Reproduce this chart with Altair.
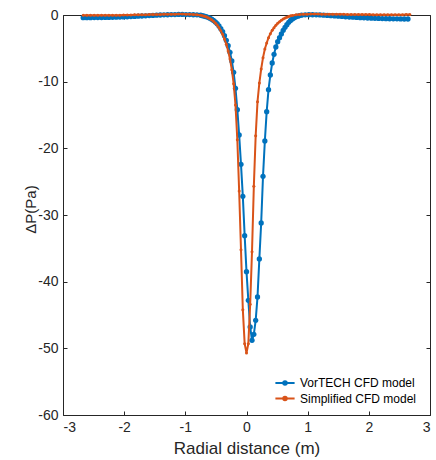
import altair as alt
import pandas as pd

BLUE = "#0072BD"
ORANGE = "#D95319"
INK = "#262626"
FONT = "Liberation Sans"

series_names = ["VorTECH CFD model", "Simplified CFD model"]
x_ticks = [-3, -2, -1, 0, 1, 2, 3]
y_ticks = [-60, -50, -40, -30, -20, -10, 0]

# VorTECH CFD model (blue)
vortech_x = [
    -2.67, -2.61, -2.55, -2.49, -2.43, -2.37, -2.31, -2.25, -2.19, -2.13, -2.07, -2.01,
    -1.95, -1.89, -1.83, -1.77, -1.71, -1.65, -1.59, -1.53, -1.47, -1.41, -1.35, -1.29,
    -1.23, -1.17, -1.11, -1.05, -0.99, -0.93, -0.87, -0.81,
    -0.75, -0.72, -0.69, -0.66, -0.63, -0.60, -0.57, -0.54, -0.51, -0.48,
    -0.45, -0.42, -0.39, -0.36, -0.33, -0.30, -0.27, -0.24, -0.21, -0.18,
    -0.15, -0.12, -0.09, -0.06, -0.03, 0.00, 0.03, 0.06, 0.09, 0.12,
    0.15, 0.18, 0.21, 0.24, 0.27, 0.30, 0.33, 0.36, 0.39, 0.42,
    0.45, 0.48, 0.51, 0.54, 0.57, 0.60, 0.63, 0.66, 0.69, 0.72,
    0.75, 0.78, 0.81, 0.84, 0.87, 0.90,
    0.96, 1.02, 1.08, 1.14, 1.20, 1.26, 1.32, 1.38, 1.44, 1.50, 1.56, 1.62,
    1.68, 1.74, 1.80, 1.86, 1.92, 1.98, 2.04, 2.10, 2.16, 2.22, 2.28, 2.34,
    2.40, 2.46, 2.52, 2.58, 2.64,
]
vortech_y = [
    -0.40, -0.40, -0.40, -0.39, -0.39, -0.38, -0.37, -0.36, -0.35, -0.33, -0.31, -0.29,
    -0.27, -0.24, -0.21, -0.18, -0.15, -0.12, -0.09, -0.06, -0.03, 0.00, 0.02, 0.04,
    0.06, 0.07, 0.08, 0.08, 0.07, 0.06, 0.04, 0.02,
    -0.04, -0.10, -0.17, -0.25, -0.35, -0.48, -0.63, -0.82, -1.05, -1.30,
    -1.65, -2.05, -2.50, -3.10, -3.80, -4.60, -5.60, -6.90, -8.60, -11.0,
    -14.2, -18.0, -22.4, -27.2, -33.1, -38.5, -42.8, -46.8, -48.8, -47.9,
    -45.8, -42.3, -36.6, -31.2, -24.2, -18.9, -14.5, -11.2, -9.0, -7.2,
    -5.9, -4.8, -4.0, -3.4, -2.85, -2.3, -1.85, -1.45, -1.1, -0.82,
    -0.6, -0.42, -0.28, -0.17, -0.08, -0.02,
    0.02, 0.04, 0.04, 0.03, 0.01, -0.02, -0.06, -0.10, -0.14, -0.18, -0.22, -0.26,
    -0.30, -0.33, -0.37, -0.40, -0.43, -0.46, -0.48, -0.50, -0.52, -0.54, -0.55, -0.56,
    -0.57, -0.58, -0.59, -0.60, -0.60,
]

# Simplified CFD model (orange)
simplified_x = [
    -2.67, -2.61, -2.55, -2.49, -2.43, -2.37, -2.31, -2.25, -2.19, -2.13, -2.07, -2.01,
    -1.95, -1.89, -1.83, -1.77, -1.71, -1.65, -1.59, -1.53, -1.47, -1.41, -1.35, -1.29,
    -1.23, -1.17, -1.11, -1.05, -0.99, -0.93, -0.87, -0.81,
    -0.75, -0.72, -0.69, -0.66, -0.63, -0.60, -0.57, -0.54, -0.51, -0.48,
    -0.45, -0.42, -0.39, -0.36, -0.33, -0.30, -0.27, -0.24, -0.21, -0.18,
    -0.15, -0.12, -0.09, -0.06, -0.03, 0.00, 0.03, 0.06, 0.09, 0.12,
    0.15, 0.18, 0.21, 0.24, 0.27, 0.30, 0.33, 0.36, 0.39, 0.42,
    0.45, 0.48, 0.51, 0.54, 0.57, 0.60, 0.63, 0.66, 0.69, 0.72,
    0.75,
    0.81, 0.87, 0.93, 0.99, 1.05, 1.11, 1.17, 1.23, 1.29, 1.35, 1.41, 1.47,
    1.53, 1.59, 1.65, 1.71, 1.77, 1.83, 1.89, 1.95, 2.01, 2.07, 2.13, 2.19,
    2.25, 2.31, 2.37, 2.43, 2.49, 2.55, 2.61, 2.67,
]
simplified_y = [
    -0.05, -0.05, -0.05, -0.05, -0.04, -0.04, -0.04, -0.03, -0.03, -0.02, -0.02, -0.01,
    0.00, 0.01, 0.02, 0.03, 0.04, 0.05, 0.06, 0.07, 0.08, 0.09, 0.10, 0.11,
    0.12, 0.13, 0.14, 0.14, 0.13, 0.11, 0.08, 0.03,
    -0.04, -0.10, -0.18, -0.28, -0.40, -0.55, -0.72, -0.95, -1.20, -1.50,
    -1.90, -2.35, -2.90, -3.60, -4.40, -5.40, -6.60, -8.20, -10.3, -13.5,
    -18.7, -26.4, -35.2, -44.2, -49.3, -50.7, -49.3, -43.4, -35.5, -25.7,
    -18.1, -13.0, -10.2, -8.1, -6.4, -5.1, -4.2, -3.4, -2.8, -2.3,
    -1.9, -1.55, -1.25, -1.0, -0.78, -0.6, -0.45, -0.32, -0.22, -0.13,
    -0.06,
    0.03, 0.08, 0.11, 0.13, 0.14, 0.14, 0.14, 0.13, 0.13, 0.12, 0.12, 0.11,
    0.10, 0.10, 0.09, 0.08, 0.08, 0.07, 0.07, 0.06, 0.06, 0.05, 0.05, 0.05,
    0.04, 0.04, 0.04, 0.04, 0.04, 0.05, 0.06, 0.07,
]

blue_df = pd.DataFrame({"x": vortech_x, "y": vortech_y, "series": series_names[0]})
orange_df = pd.DataFrame({"x": simplified_x, "y": simplified_y, "series": series_names[1]})

W, H = 367, 400

xs = alt.Scale(domain=[-3, 3], nice=False, zero=False)
ys = alt.Scale(domain=[-60, 0], nice=False, zero=False)
color_scale = alt.Scale(domain=series_names, range=[BLUE, ORANGE])

main_x_axis = alt.Axis(
    values=x_ticks, ticks=False, tickSize=0, domain=False, grid=False,
    labelFontSize=14, labelPadding=5, labelColor=INK,
    labelExpr="'' + datum.value",
    title="Radial distance (m)", titleFontSize=17, titleFontWeight="normal",
    titleColor=INK, titleY=38, titleBaseline="alphabetic",
)
main_y_axis = alt.Axis(
    values=y_ticks, ticks=False, tickSize=0, domain=False, grid=False,
    labelFontSize=14, labelPadding=5, labelColor=INK,
    labelExpr="'' + datum.value",
    title="ΔP(Pa)", titleFontSize=15, titleFontWeight="normal",
    titleColor=INK, titleX=-28, titleY=194, titleAlign="center",
    titleBaseline="alphabetic",
)


def tick_axis(orient, values, offset):
    return alt.Axis(
        orient=orient, values=values, offset=offset, labels=False, domain=False,
        grid=False, ticks=True, tickSize=4, tickColor=INK, tickWidth=1, title=None,
    )


legend_symbol = "M-1.2,0L1.2,0M-0.22,0A0.22,0.22,0,1,0,0.22,0A0.22,0.22,0,1,0,-0.22,0Z"

legend = alt.Legend(
    orient="none", legendX=213, legendY=359, title=None,
    symbolType=legend_symbol, symbolSize=256, symbolStrokeWidth=2,
    labelFont=FONT, labelFontSize=12, labelColor="#000000",
    labelOffset=6, rowPadding=0.5, padding=0,
)

blue_line = alt.Chart(blue_df).mark_line(strokeWidth=2).encode(
    x=alt.X("x:Q", scale=xs, axis=main_x_axis),
    y=alt.Y("y:Q", scale=ys, axis=main_y_axis),
    color=alt.Color("series:N", scale=color_scale, legend=legend),
)
blue_pts = alt.Chart(blue_df).mark_point(
    filled=True, size=28, opacity=1, shape="circle", color=BLUE
).encode(
    x=alt.X("x:Q", scale=xs, axis=tick_axis("top", x_ticks, -H)),
    y=alt.Y("y:Q", scale=ys, axis=tick_axis("right", y_ticks, -W)),
)
orange_line = alt.Chart(orange_df).mark_line(strokeWidth=2).encode(
    x=alt.X("x:Q", scale=xs, axis=tick_axis("bottom", x_ticks, -H)),
    y=alt.Y("y:Q", scale=ys, axis=tick_axis("left", y_ticks, -W)),
    color=alt.Color("series:N", scale=color_scale, legend=legend),
)
orange_pts = alt.Chart(orange_df).mark_point(
    filled=True, size=9, opacity=1, shape="circle", color=ORANGE
).encode(
    x=alt.X("x:Q", scale=xs, axis=None),
    y=alt.Y("y:Q", scale=ys, axis=None),
)

chart = (
    alt.layer(blue_line, blue_pts, orange_line, orange_pts)
    .resolve_axis(x="independent", y="independent")
    .properties(
        width=W, height=H, background="white",
        autosize=alt.AutoSizeParams(type="none"),
        padding={"left": 63, "top": 15, "right": 6, "bottom": 45},
    )
    .configure_view(stroke=INK, strokeWidth=1)
    .configure_axis(labelFont=FONT, titleFont=FONT)
)

chart.save("out.html", embed_options={"renderer": "svg", "actions": False})
